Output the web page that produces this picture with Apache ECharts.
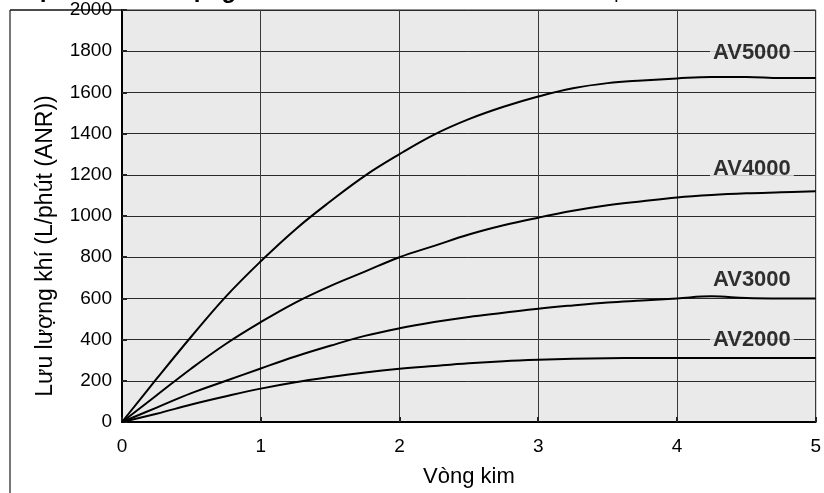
<!DOCTYPE html>
<html><head><meta charset="utf-8">
<script src="https://cdn.jsdelivr.net/npm/echarts@6/dist/echarts.min.js"></script>
<style>html,body{margin:0;padding:0;background:#fff}#c{width:824px;height:493px}</style>
</head><body><div id="c"></div>
<script>
var xTicks = [0, 0.25, 0.5, 0.75, 1, 1.25, 1.5, 1.75, 2, 2.25, 2.5, 2.75, 3, 3.25, 3.5, 3.75, 4, 4.25, 4.5, 4.75, 5];
var av5000 = [0, 210, 415, 610, 780, 935, 1070, 1195, 1300, 1395, 1470, 1530, 1580, 1620, 1645, 1658, 1668, 1675, 1675, 1670, 1670];
var av4000 = [0, 130, 260, 380, 485, 580, 660, 730, 800, 855, 910, 955, 992, 1025, 1052, 1072, 1090, 1102, 1110, 1115, 1120];
var av3000 = [0, 70, 140, 200, 260, 318, 370, 418, 455, 485, 510, 530, 550, 566, 580, 590, 600, 610, 602, 600, 600];
var av2000 = [0, 40, 85, 125, 162, 193, 218, 240, 258, 272, 285, 295, 302, 307, 310, 311, 311, 311, 311, 311, 311];
var seriesNames = ['AV5000', 'AV4000', 'AV3000', 'AV2000'];
var labelX = [4.54, 4.54, 4.54, 4.54];
var labelY = [1790, 1230, 690, 400];
var yTitle = 'Lưu lượng khí (L/phút (ANR))';
var xTitle = 'Vòng kim';
var leftTitle = 'Đặc tính lưu lượng';
var rightTitle = 'Áp suất đầu vào 0.5 MPa';

function pairs(arr){ return xTicks.map(function(x,i){ return [x, arr[i]]; }); }
var all = [av5000, av4000, av3000, av2000];
var bg = '#e9eae9';
var chart = echarts.init(document.getElementById('c'));
var series = all.map(function(a, i){
  return { name: seriesNames[i], type: 'line', data: pairs(a), smooth: 0.4, symbol: 'none',
    lineStyle: { color: '#000', width: 2 }, z: 3 };
});
series.push({
  type: 'scatter', symbolSize: 0, z: 5,
  data: seriesNames.map(function(n, i){ return { value: [labelX[i], labelY[i]], name: n }; }),
  label: { show: true, position: 'inside', formatter: '{b}', color: '#000', fontWeight: 'bold',
    fontSize: 22, fontFamily: 'Liberation Sans, Arial', backgroundColor: bg, padding: [0, 3] }
});
chart.setOption({
  animation: false,
  textStyle: { fontFamily: 'Liberation Sans, Arial' },
  title: [
    { text: leftTitle, left: 14, top: -26, textStyle: { fontSize: 24, fontWeight: 'bold', color: '#000' } },
    { text: rightTitle, right: 4, top: -22, textStyle: { fontSize: 19, fontWeight: 'normal', color: '#000' } }
  ],
  grid: { left: 122, right: 1, top: 10, bottom: 63, show: true, backgroundColor: bg, borderColor: '#222', borderWidth: 1 },
  xAxis: { type: 'value', min: 0, max: 5, interval: 1,
    name: xTitle, nameLocation: 'middle', nameGap: 44, nameTextStyle: { fontSize: 22, color: '#000' },
    axisLine: { show: true, lineStyle: { color: '#000', width: 2 } },
    axisTick: { show: true, inside: true, length: 5, lineStyle: { color: '#222', width: 2 } },
    axisLabel: { fontSize: 19, color: '#000', margin: 15 },
    splitLine: { show: true, lineStyle: { color: '#3a3a3a', width: 1 } } },
  yAxis: { type: 'value', min: 0, max: 2000, interval: 200,
    name: yTitle, nameLocation: 'middle', nameGap: 65,
    nameTextStyle: { fontSize: 23, color: '#000', padding: [0, 60, 0, 0] },
    axisLine: { show: true, lineStyle: { color: '#000', width: 2 } },
    axisTick: { show: true, inside: true, length: 5, lineStyle: { color: '#222', width: 2 } },
    axisLabel: { fontSize: 19, color: '#000', margin: 10, formatter: function(v){ return String(v); } },
    splitLine: { show: true, lineStyle: { color: '#2a2a2a', width: 1 } } },
  graphic: [
    { type: 'line', shape: { x1: 10, y1: 10, x2: 10, y2: 493 }, style: { stroke: '#777', lineWidth: 2 } },
    { type: 'line', shape: { x1: 10, y1: 10, x2: 122, y2: 10 }, style: { stroke: '#111', lineWidth: 1.5 } }
  ],
  series: series
});
</script></body></html>
